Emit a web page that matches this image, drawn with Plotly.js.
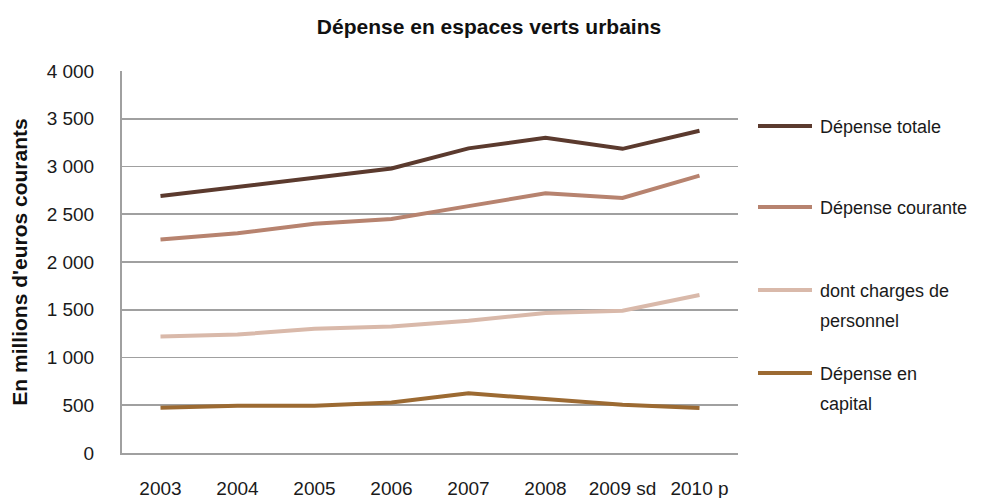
<!DOCTYPE html>
<html><head><meta charset="utf-8">
<script src="https://cdn.plot.ly/plotly-3.0.1.min.js"></script>
<style>html,body{margin:0;padding:0;background:#fff}#chart{width:993px;height:498px}</style>
</head><body><div id="chart"></div>
<script>
const years = ["2003","2004","2005","2006","2007","2008","2009 sd","2010 p"];
const depenseTotale   = [2690, 2790, 2890, 2980, 3190, 3300, 3185, 3375];
const depenseCourante = [2235, 2300, 2400, 2450, 2585, 2720, 2670, 2905];
const chargesPersonnel = [1220, 1240, 1300, 1325, 1385, 1465, 1490, 1655];
const depenseCapital  = [475, 495, 495, 530, 625, 565, 505, 470];
const seriesNames = ["Dépense totale","Dépense courante","dont charges de<br>personnel","Dépense en<br>capital"];
const seriesColors = ["#5b3a2e","#b7836f","#d9b9aa","#9c6a32"];
const yTickVals = [0,500,1000,1500,2000,2500,3000,3500,4000];
const yTickText = ["0","500","1 000","1 500","2 000","2 500","3 000","3 500","4 000"];

const allSeries = [depenseTotale, depenseCourante, chargesPersonnel, depenseCapital];
const font = "Liberation Sans, Arial, sans-serif";

const traces = allSeries.map((vals, i) => ({
  type: "scatter", mode: "lines", x: years, y: vals, name: seriesNames[i],
  line: {color: seriesColors[i], width: 4}, showlegend: false, hoverinfo: "skip"
}));

// custom legend (paper coords)
const legendY = [126, 207, 290, 373];
const shapes = [], annotations = [];
const H = 498, W = 993;
const plotTop = 71, plotBottom = 453, plotLeft = 122, plotRight = 738;
function py(pix){ return 1 - (pix - plotTop)/(plotBottom - plotTop); }
function px(pix){ return (pix - plotLeft)/(plotRight - plotLeft); }
seriesNames.forEach((n, i) => {
  shapes.push({type:"line", xref:"paper", yref:"paper", x0:px(758), x1:px(812), y0:py(legendY[i]), y1:py(legendY[i]),
    line:{color:seriesColors[i], width:4}});
  n.split("<br>").forEach((part, k) => {
    annotations.push({xref:"paper", yref:"paper", x:px(818), y:py(legendY[i] + 1 + k*30), xanchor:"left", yanchor:"middle",
      text:part, showarrow:false, align:"left", font:{family:font, size:18, color:"#1a1a1a"}});
  });
});

const layout = {
  width: 993, height: 498,
  margin: {l: plotLeft, r: W - plotRight, t: plotTop, b: H - plotBottom, autoexpand:false},
  paper_bgcolor: "#fff", plot_bgcolor: "#fff",
  title: {text: "<b>Dépense en espaces verts urbains</b>", font: {family: font, size: 21, color: "#111"},
    x: 489/993, xref: "container", y: 1 - 27/498, yref: "container", xanchor: "center", yanchor: "middle"},
  xaxis: {type: "category", range: [-0.5, 7.5], showgrid: false, zeroline: false,
    showline: true, linecolor: "#a0a0a0", linewidth: 2,
    ticks: "outside", ticklen: 17, tickcolor: "rgba(0,0,0,0)",
    tickfont: {family: font, size: 19, color: "#1a1a1a"}, automargin: false, fixedrange: true},
  yaxis: {range: [0, 4000], tickvals: yTickVals, ticktext: yTickText,
    showgrid: true, gridcolor: "#a0a0a0", gridwidth: 1.6, zeroline: false,
    showline: true, linecolor: "#a0a0a0", linewidth: 2,
    ticks: "outside", ticklen: 22, tickcolor: "rgba(0,0,0,0)",
    tickfont: {family: font, size: 19, color: "#1a1a1a"},
    title: {text: "<b>En millions d'euros courants</b>", font: {family: font, size: 21, color: "#111"}, standoff: 13},
    automargin: false, fixedrange: true},
  shapes: shapes, annotations: annotations, showlegend: false
};
Plotly.newPlot("chart", traces, layout, {displayModeBar: false, staticPlot: true});
</script></body></html>
